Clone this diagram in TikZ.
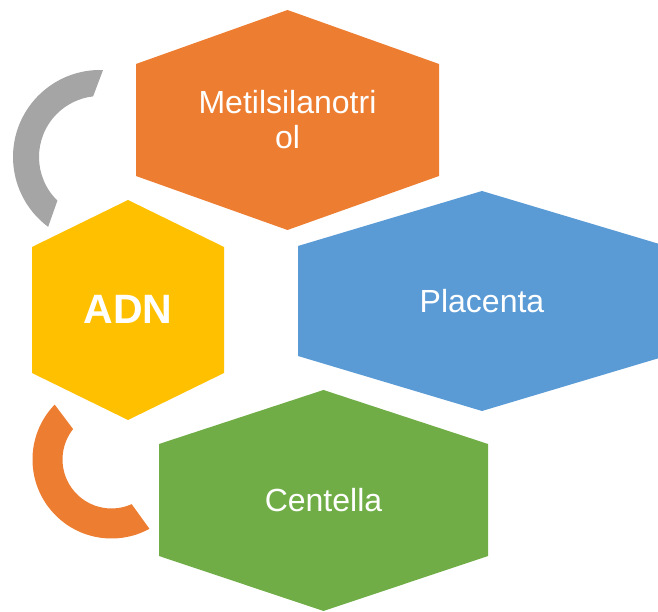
\documentclass[tikz,border=0pt]{standalone}
\usepackage{fontspec}
\setmainfont{Liberation Sans}
\usetikzlibrary{calc}
\definecolor{cOrange}{HTML}{ED7D31}
\definecolor{cBlue}{HTML}{5B9BD5}
\definecolor{cYellow}{HTML}{FFC000}
\definecolor{cGreen}{HTML}{70AD47}
\definecolor{cGray}{HTML}{A5A5A5}
\tikzset{
  hexlabel/.style={text=white, align=center, font=\fontsize{32}{35}\selectfont, inner sep=0pt},
  hexbold/.style={text=white, align=center, font=\fontsize{41}{46}\selectfont\bfseries, inner sep=0pt},
}
\begin{document}
\begin{tikzpicture}[x=1pt,y=1pt]
\useasboundingbox (0,0) rectangle (658,612);
\clip (0,0) rectangle (658,612);
% gray arc
\coordinate (gc) at (100,455);
\fill[cGray] ($(gc)+(88:87)$) arc[start angle=88, end angle=233.4, radius=87]
  -- ($(gc)+(225.7:61)$) arc[start angle=225.7, end angle=96.5, radius=61] -- cycle;
% orange arc
\coordinate (oc) at (111.5,152.5);
\fill[cOrange] ($(oc)+(136:79)$) arc[start angle=136, end angle=298.7, radius=79]
  -- ($(oc)+(294.3:49)$) arc[start angle=294.3, end angle=141.6, radius=49] -- cycle;
% hexagons
\fill[cOrange] (287.5,602) -- (439,548) -- (439,436) -- (287.5,382) -- (136,436) -- (136,548) -- cycle;
\fill[cBlue] (482,421) -- (666,366) -- (666,256) -- (482,201) -- (298,256) -- (298,366) -- cycle;
\fill[cYellow] (128,412) -- (224,365) -- (224,239) -- (128,192) -- (32,239) -- (32,365) -- cycle;
\fill[cGreen] (323.5,222) -- (488,168) -- (488,56) -- (323.5,1) -- (159,56) -- (159,168) -- cycle;
% labels
\node[hexlabel] (met) at (287.5,492) {Metilsilanotri\\ol};
\node[hexlabel] (pla) at (482,311) {Placenta};
\node[hexbold] (adn) at (128,303) {ADN};
\node[hexlabel] (cen) at (323.5,112) {Centella};
\end{tikzpicture}
\end{document}
